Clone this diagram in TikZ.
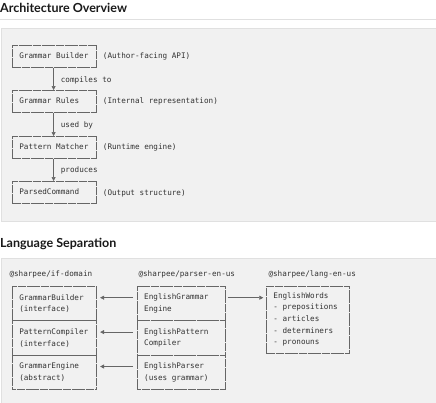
\documentclass[tikz,border=0pt]{standalone}
\usepackage{fontspec}
\setmainfont{Lato}
\newfontfamily\monof{DejaVu Sans Mono}
\newcommand\monosize{\monof\fontsize{7.64}{11.6}\selectfont}
\usetikzlibrary{arrows.meta}
\definecolor{panelfill}{HTML}{F1F1F1}
\definecolor{panelline}{HTML}{E0E0E0}
\definecolor{boxline}{HTML}{666666}
\definecolor{monotext}{HTML}{333333}
\definecolor{titletext}{HTML}{1A1A1A}
\begin{document}
\begin{tikzpicture}[x=1pt,y=-1pt,
  mono/.style={font=\monosize, text=monotext, inner sep=0pt},
  boxnode/.style={draw=boxline, line width=0.6pt, dash pattern=on 4.2pt off 0.4pt, inner sep=0pt, anchor=north west, rectangle},
  boxtext/.style={mono, align=left, anchor=west},
  arr/.style={draw=boxline, line width=0.6pt, -{Triangle[length=4pt,width=4pt]}},
  heading/.style={font=\bfseries\fontsize{12.5}{15}\selectfont, text=titletext, inner sep=0pt, anchor=base west},
]
\useasboundingbox (0,0) rectangle (436,402);
\fill[white] (0,0) rectangle (436,402);
% panels
\filldraw[fill=panelfill, draw=panelline, line width=0.8pt] (1,28) rectangle (437,221);
\filldraw[fill=panelfill, draw=panelline, line width=0.8pt] (1,258) rectangle (437,404);
\draw[panelline, line width=0.8pt] (0,19.8) -- (436,19.8);
% titles
\node[heading] (t1) at (0,12.3) {Architecture Overview};
\node[heading] (t2) at (0,247) {Language Separation};
% panel 1
\node[boxnode, minimum width=84pt, minimum height=22pt] (gb) at (12,45) {};
\node[boxnode, minimum width=84pt, minimum height=22pt] (gr) at (12,90) {};
\node[boxnode, minimum width=84pt, minimum height=22pt] (pm) at (12,136) {};
\node[boxnode, minimum width=84pt, minimum height=22pt] (pc) at (12,181) {};
\node[boxtext] (gbt) at ([shift={(7.2,-0.3)}]gb.west) {Grammar Builder};
\node[boxtext] (grt) at ([shift={(7.2,-0.3)}]gr.west) {Grammar Rules};
\node[boxtext] (pmt) at ([shift={(7.2,-0.3)}]pm.west) {Pattern Matcher};
\node[boxtext] (pct) at ([shift={(7.2,-0.3)}]pc.west) {ParsedCommand};
\draw[arr] ([xshift=-0.7pt]gb.south) -- ([xshift=-0.7pt]gr.north);
\draw[arr] ([xshift=-0.7pt]gr.south) -- ([xshift=-0.7pt]pm.north);
\draw[arr] ([xshift=-0.7pt]pm.south) -- ([xshift=-0.7pt]pc.north);
\node[mono, anchor=base west] (l1) at (60.7,82) {compiles to};
\node[mono, anchor=base west] (l2) at (60.7,127) {used by};
\node[mono, anchor=base west] (l3) at (60.7,172.7) {produces};
\node[mono, anchor=base west] (s1) at (102.7,58.2) {(Author-facing API)};
\node[mono, anchor=base west] (s2) at (102.7,103.7) {(Internal representation)};
\node[mono, anchor=base west] (s3) at (102.7,149.4) {(Runtime engine)};
\node[mono, anchor=base west] (s4) at (102.7,195.4) {(Output structure)};
% panel 2 headers
\node[mono, anchor=base west] (h1) at (9.3,276.7) {@sharpee/if-domain};
\node[mono, anchor=base west] (h2) at (138.3,276.7) {@sharpee/parser-en-us};
\node[mono, anchor=base west] (h3) at (268.3,276.7) {@sharpee/lang-en-us};
% left stack
\node[boxnode, minimum width=84.3pt, minimum height=34.4pt] (gbi) at (11.7,286) {};
\node[boxnode, minimum width=84.3pt, minimum height=34.4pt] (pci) at (11.7,320.4) {};
\node[boxnode, minimum width=84.3pt, minimum height=34.4pt] (gea) at (11.7,354.8) {};
\node[boxtext] (gbit) at ([xshift=7.4pt]gbi.west) {GrammarBuilder\\(interface)};
\node[boxtext] (pcit) at ([xshift=7.4pt]pci.west) {PatternCompiler\\(interface)};
\node[boxtext] (geat) at ([xshift=7.4pt]gea.west) {GrammarEngine\\(abstract)};
% middle stack
\node[boxnode, minimum width=88.3pt, minimum height=34.4pt] (eg) at (136.7,286) {};
\node[boxnode, minimum width=88.3pt, minimum height=34.4pt] (ep) at (136.7,320.4) {};
\node[boxnode, minimum width=88.3pt, minimum height=34.4pt] (epr) at (136.7,354.8) {};
\node[boxtext] (egt) at ([xshift=7.3pt]eg.west) {EnglishGrammar\\Engine};
\node[boxtext] (ept) at ([xshift=7.3pt]ep.west) {EnglishPattern\\Compiler};
\node[boxtext] (eprt) at ([xshift=7.3pt]epr.west) {EnglishParser\\(uses grammar)};
% right box
\node[boxnode, minimum width=83pt, minimum height=67.3pt] (ew) at (266,286) {};
\node[boxtext] (ewt) at ([shift={(7.2,-0.5)}]ew.west) {EnglishWords\\- prepositions\\- articles\\- determiners\\- pronouns};
% arrows
\draw[arr] ([shift={(-3.5,-5.8)}]eg.west) -- ([shift={(3.5,-5.8)}]gbi.east);
\draw[arr] ([shift={(-3.5,-5.8)}]ep.west) -- ([shift={(3.5,-5.8)}]pci.east);
\draw[arr] ([shift={(-3.5,-5.8)}]epr.west) -- ([shift={(3.5,-5.8)}]gea.east);
\coordinate (r1) at ([shift={(2,-5.8)}]eg.east);
\draw[arr, shorten >=2.7pt] (r1) -- (r1 -| ew.west);
\end{tikzpicture}
\end{document}
